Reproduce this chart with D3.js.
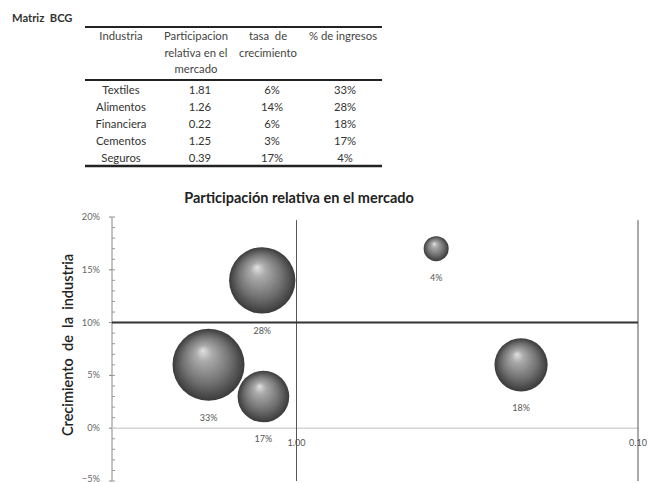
<!DOCTYPE html>
<html>
<head>
<meta charset="utf-8">
<script src="https://cdn.jsdelivr.net/npm/d3@7"></script>
<style>
  body { margin: 0; background: #fff; }
  svg { display: block; font-family: Lato, "Open Sans", sans-serif; }
</style>
</head>
<body>
<script>
// table / chart data
var industries = ['Textiles', 'Alimentos', 'Financiera', 'Cementos', 'Seguros'];
var share = [1.81, 1.26, 0.22, 1.25, 0.39];      // participacion relativa
var growth = [0.06, 0.14, 0.06, 0.03, 0.17];     // tasa de crecimiento
var revenue = [0.33, 0.28, 0.18, 0.17, 0.04];    // % de ingresos
var headers = [['Industria'], ['Participacion', 'relativa en el', 'mercado'], ['tasa  de', 'crecimiento'], ['% de ingresos']];
var yTicks = [-0.05, 0, 0.05, 0.10, 0.15, 0.20];
var xTicks = [1, 0.1];
var shareMax = 3.47, shareMin = 0.1;
var growthDivider = 0.10;

var W = 649, H = 483;
var svg = d3.select('body').append('svg').attr('width', W).attr('height', H);

svg.append('text').attr('x', 12).attr('y', 22)
  .attr('font-size', 11.2).attr('font-weight', 'bold').attr('fill', '#333')
  .attr('xml:space', 'preserve').text('Matriz  BCG');

// ---- table ----
var tbl = svg.append('g');
var colX = [121, 196, 268, 343];
var tblL = 85, tblR = 382;
var fmtPct = d3.format('.0%');
var fmtShare = d3.format('.2f');

tbl.append('line').attr('x1', tblL).attr('x2', tblR).attr('y1', 27).attr('y2', 27).attr('stroke', '#222').attr('stroke-width', 2);
tbl.append('line').attr('x1', tblL).attr('x2', tblR).attr('y1', 80).attr('y2', 80).attr('stroke', '#222').attr('stroke-width', 2);
tbl.append('line').attr('x1', tblL).attr('x2', tblR).attr('y1', 166).attr('y2', 166).attr('stroke', '#222').attr('stroke-width', 2.5);

headers.forEach(function (lines, c) {
  lines.forEach(function (t, k) {
    tbl.append('text').attr('x', colX[c]).attr('y', 40 + k * 16.5)
      .attr('text-anchor', 'middle').attr('font-size', 11.3).attr('fill', '#444')
      .attr('xml:space', 'preserve').text(t);
  });
});

industries.forEach(function (name, i) {
  var y = 93.5 + i * 17.1;
  var cells = [name, fmtShare(share[i]), fmtPct(growth[i]), fmtPct(revenue[i])];
  var cx = [121, 200, 272, 345];
  cells.forEach(function (t, c) {
    tbl.append('text').attr('x', cx[c]).attr('y', y)
      .attr('text-anchor', 'middle').attr('font-size', 11.3).attr('fill', '#333').text(t);
  });
});

// ---- bubble chart ----
var x = d3.scaleLog().domain([shareMax, shareMin]).range([112, 638]);
var y = d3.scaleLinear().domain([-0.05, 0.20]).range([481, 217]);
var r = d3.scaleSqrt().domain([0, 0.33]).range([0, 36]);

svg.append('text').attr('x', 299).attr('y', 203)
  .attr('text-anchor', 'middle').attr('font-size', 14.5).attr('font-weight', 'bold').attr('fill', '#222')
  .text('Participación relativa en el mercado');

svg.append('text')
  .attr('transform', 'translate(73,345) rotate(-90)')
  .attr('text-anchor', 'middle').attr('font-size', 14.5).attr('font-weight', 600).attr('fill', '#222')
  .attr('xml:space', 'preserve').text('Crecimiento  de  la  industria');

// y axis with minor ticks
var yAxis = svg.append('g').attr('transform', 'translate(112,0)');
yAxis.append('line').attr('y1', y(0.20)).attr('y2', y(-0.05)).attr('stroke', '#888');
yAxis.selectAll('.minor').data(d3.range(-5, 21).map(function (v) { return v / 100; }))
  .enter().append('line').attr('class', 'minor')
  .attr('x1', 0).attr('x2', 3).attr('y1', function (d) { return y(d); }).attr('y2', function (d) { return y(d); })
  .attr('stroke', '#999');
yAxis.selectAll('.major').data(yTicks).enter().append('line')
  .attr('x1', -3).attr('x2', 0).attr('y1', function (d) { return y(d); }).attr('y2', function (d) { return y(d); })
  .attr('stroke', '#888');
yAxis.selectAll('.lab').data(yTicks).enter().append('text')
  .attr('x', -12).attr('y', function (d) { return Math.min(y(d) + 3, H - 1); })
  .attr('text-anchor', 'end').attr('font-size', 9.3).attr('fill', '#666')
  .text(function (d) { return fmtPct(d); });

// 0% baseline (x axis)
svg.append('line').attr('x1', x(shareMax)).attr('x2', x(shareMin)).attr('y1', y(0)).attr('y2', y(0))
  .attr('stroke', '#d4d4d4').attr('stroke-width', 1.5);

// quadrant lines
svg.selectAll('.vline').data(xTicks).enter().append('line')
  .attr('x1', function (d) { return x(d); }).attr('x2', function (d) { return x(d); })
  .attr('y1', y(0.197)).attr('y2', y(-0.05))
  .attr('stroke', '#555').attr('stroke-width', 1);
svg.append('line').attr('x1', x(shareMax)).attr('x2', x(shareMin))
  .attr('y1', y(growthDivider)).attr('y2', y(growthDivider))
  .attr('stroke', '#333').attr('stroke-width', 2);

svg.selectAll('.xlab').data(xTicks).enter().append('text')
  .attr('x', function (d) { return x(d); }).attr('y', y(0) + 18)
  .attr('text-anchor', 'middle').attr('font-size', 9).attr('fill', '#555')
  .text(function (d) { return fmtShare(d); });

// sphere gradient
var grad = svg.append('defs').append('radialGradient').attr('id', 'sphere')
  .attr('cx', '50%').attr('cy', '50%').attr('r', '50%').attr('fx', '42%').attr('fy', '30%');
[[0, '#e2e2e2'], [0.22, '#ababab'], [0.65, '#727272'], [0.9, '#4a4a4a'], [1, '#3a3a3a']].forEach(function (s) {
  grad.append('stop').attr('offset', s[0]).attr('stop-color', s[1]);
});

var idx = d3.range(industries.length);
svg.selectAll('.bubble').data(idx).enter().append('circle').attr('class', 'bubble')
  .attr('cx', function (i) { return x(share[i]); })
  .attr('cy', function (i) { return y(growth[i]); })
  .attr('r', function (i) { return r(revenue[i]); })
  .attr('fill', 'url(#sphere)');

svg.selectAll('.blab').data(idx).enter().append('text')
  .attr('x', function (i) { return x(share[i]); })
  .attr('y', function (i) { return y(growth[i]) + r(revenue[i]) + 20; })
  .attr('text-anchor', 'middle').attr('font-size', 9).attr('fill', '#555')
  .text(function (i) { return fmtPct(revenue[i]); });
</script>
</body>
</html>
